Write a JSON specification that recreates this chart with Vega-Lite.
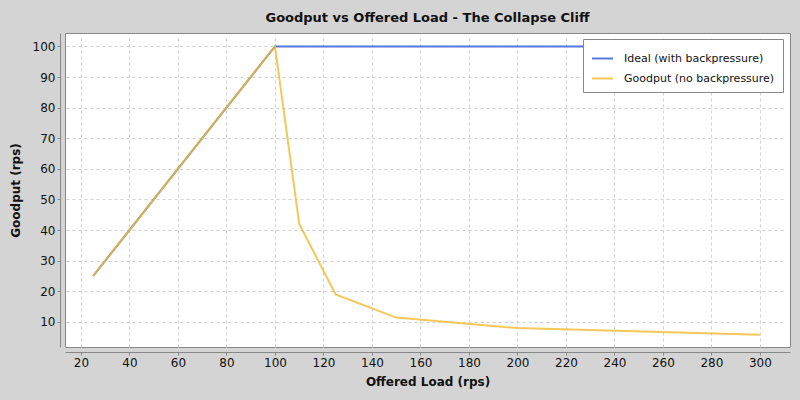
{
  "$schema": "https://vega.github.io/schema/vega-lite/v6.json",
  "autosize": {"type": "none"},
  "padding": {"left": 65, "top": 33, "right": 10, "bottom": 53},
  "width": 725,
  "height": 314,
  "background": "#d4d4d4",
  "title": {
    "text": "Goodput vs Offered Load - The Collapse Cliff",
    "font": "DejaVu Sans",
    "fontSize": 13,
    "fontWeight": "bold",
    "color": "#111111",
    "anchor": "middle",
    "offset": 8
  },
  "config": {
    "view": {"fill": "white", "stroke": "#888888", "strokeWidth": 1},
    "axis": {
      "labelFont": "DejaVu Sans",
      "labelFontSize": 12,
      "labelColor": "#111111",
      "titleFont": "DejaVu Sans",
      "titleFontSize": 12,
      "titleFontWeight": "bold",
      "titleColor": "#111111",
      "domainColor": "#888888",
      "tickColor": "#888888",
      "tickSize": 3,
      "gridColor": "#d0d0d0",
      "gridDash": [3, 3],
      "offset": 5
    },
    "legend": {
      "labelFont": "DejaVu Sans",
      "labelFontSize": 11,
      "labelColor": "#111111",
      "labelLimit": 0
    }
  },
  "data": {
    "values": [
      {"series": "Ideal (with backpressure)", "load": 25, "goodput": 25},
      {"series": "Ideal (with backpressure)", "load": 50, "goodput": 50},
      {"series": "Ideal (with backpressure)", "load": 75, "goodput": 75},
      {"series": "Ideal (with backpressure)", "load": 100, "goodput": 100},
      {"series": "Ideal (with backpressure)", "load": 110, "goodput": 100},
      {"series": "Ideal (with backpressure)", "load": 125, "goodput": 100},
      {"series": "Ideal (with backpressure)", "load": 150, "goodput": 100},
      {"series": "Ideal (with backpressure)", "load": 200, "goodput": 100},
      {"series": "Ideal (with backpressure)", "load": 300, "goodput": 100},
      {"series": "Goodput (no backpressure)", "load": 25, "goodput": 25},
      {"series": "Goodput (no backpressure)", "load": 50, "goodput": 50},
      {"series": "Goodput (no backpressure)", "load": 75, "goodput": 75},
      {"series": "Goodput (no backpressure)", "load": 100, "goodput": 100},
      {"series": "Goodput (no backpressure)", "load": 110, "goodput": 42},
      {"series": "Goodput (no backpressure)", "load": 125, "goodput": 19},
      {"series": "Goodput (no backpressure)", "load": 150, "goodput": 11.4},
      {"series": "Goodput (no backpressure)", "load": 200, "goodput": 8},
      {"series": "Goodput (no backpressure)", "load": 300, "goodput": 5.8}
    ]
  },
  "mark": {"type": "line", "strokeWidth": 2, "clip": true},
  "encoding": {
    "x": {
      "field": "load",
      "type": "quantitative",
      "title": "Offered Load (rps)",
      "scale": {"domain": [13.4, 312.4], "nice": false, "zero": false},
      "axis": {"values": [20, 40, 60, 80, 100, 120, 140, 160, 180, 200, 220, 240, 260, 280, 300], "titlePadding": 8}
    },
    "y": {
      "field": "goodput",
      "type": "quantitative",
      "title": "Goodput (rps)",
      "scale": {"domain": [1.8, 104.4], "nice": false, "zero": false},
      "axis": {"values": [10, 20, 30, 40, 50, 60, 70, 80, 90, 100], "titlePadding": 10}
    },
    "color": {
      "field": "series",
      "type": "nominal",
      "title": null,
      "scale": {
        "domain": ["Ideal (with backpressure)", "Goodput (no backpressure)"],
        "range": ["#4a72dc", "#f4bb35"]
      },
      "legend": {
        "orient": "none",
        "legendX": 518,
        "legendY": 6,
        "symbolType": "stroke",
        "symbolSize": 441,
        "symbolStrokeWidth": 2,
        "labelOffset": 10,
        "fillColor": "white",
        "strokeColor": "#888888",
        "padding": 8,
        "rowPadding": 3
      }
    },
    "opacity": {
      "field": "series",
      "type": "nominal",
      "scale": {
        "domain": ["Ideal (with backpressure)", "Goodput (no backpressure)"],
        "range": [0.95, 0.82]
      },
      "legend": null
    }
  }
}
